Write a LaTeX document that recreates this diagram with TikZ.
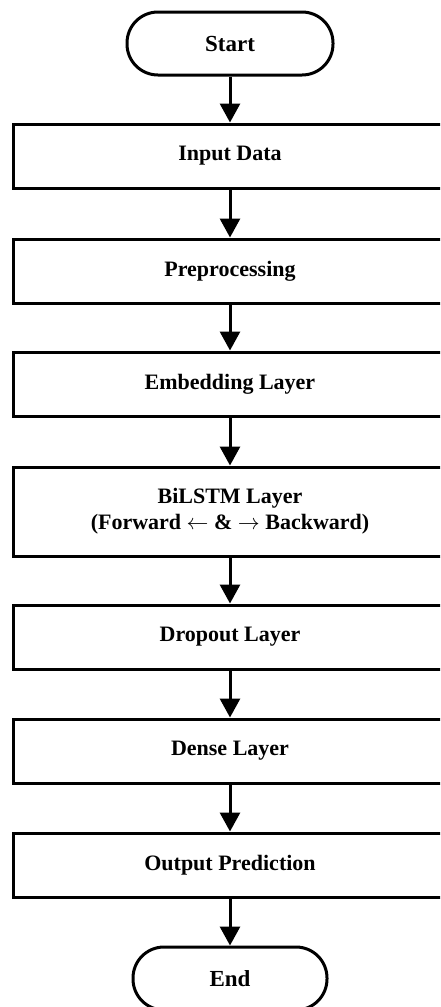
\documentclass[tikz,border=0pt]{standalone}
\usepackage{fontspec}
\setmainfont{Liberation Serif}
\usepackage{xcolor}
\usetikzlibrary{arrows.meta}

\begin{document}
\begin{tikzpicture}[x=0.5pt,y=-0.5pt,
    stage/.style={draw,line width=1.5pt,fill=white,minimum width=217pt,minimum height=32pt,
      inner sep=0pt,font=\bfseries\fontsize{11}{13}\selectfont,align=center},
    terminal/.style={draw,line width=1.5pt,fill=white,rounded corners=15.5pt,minimum height=31.5pt,
      inner sep=0pt,font=\bfseries\fontsize{11.5}{13}\selectfont},
    flow/.style={line width=1.5pt,-{Triangle[width=10pt,length=9.5pt]}}]
  \useasboundingbox (0,0) rectangle (440,1007) ;
  \clip (0,0) rectangle (440,1007) ;
  %
  \node[terminal,minimum width=103pt] (start) at (230,43.5) {Start} ;
  \node[stage] (input) at (230,156) {Input Data} ;
  \node[stage] (prep) at (230,271) {Preprocessing} ;
  \node[stage] (embed) at (230,384) {Embedding Layer} ;
  \node[stage,minimum height=44.5pt] (bilstm) at (230,511.5)
    {BiLSTM Layer\\(Forward $\leftarrow$ \& $\rightarrow$ Backward)} ;
  \node[stage] (drop) at (230,637) {Dropout Layer} ;
  \node[stage] (dense) at (230,751) {Dense Layer} ;
  \node[stage] (output) at (230,865) {Output Prediction} ;
  \node[terminal,minimum width=97pt] (end) at (230,978.5) {End} ;
  %
  \foreach \a/\b in {start/input,input/prep,prep/embed,embed/bilstm,
                     bilstm/drop,drop/dense,dense/output,output/end}
    \draw[flow] (\a) -- (\b) ;
\end{tikzpicture}
\end{document}
